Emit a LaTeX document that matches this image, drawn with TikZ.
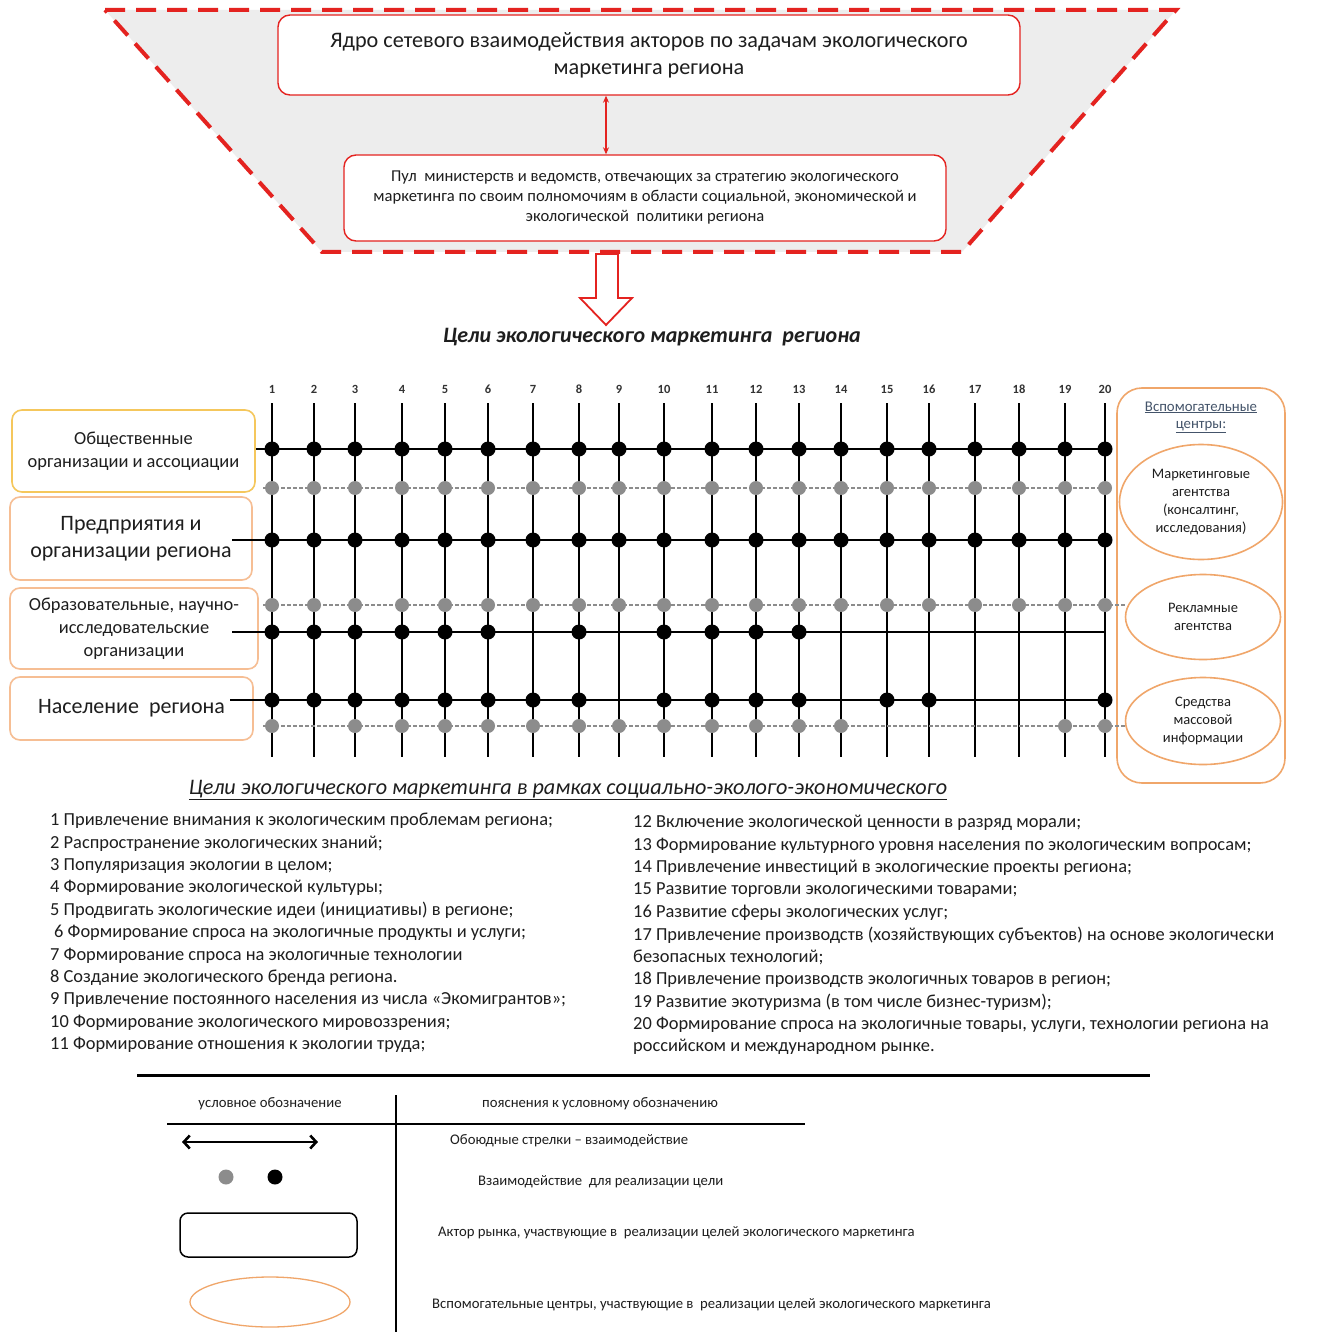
\documentclass[tikz,border=0pt]{standalone}
\usepackage{fontspec}
\setmainfont{Carlito}
\usetikzlibrary{arrows.meta,shapes.geometric}

\definecolor{funnelred}{HTML}{E42320}
\definecolor{funnelgray}{HTML}{EDEDED}
\definecolor{actoryellow}{HTML}{F5C75C}
\definecolor{actororange}{HTML}{F6BE94}
\definecolor{centreorange}{HTML}{F0A66A}
\definecolor{dotgray}{HTML}{8C8C8C}
\definecolor{textgray}{HTML}{1E1E1E}
\definecolor{labelblue}{HTML}{44546A}

\newcommand{\fsz}[2]{\fontsize{#1}{#2}\selectfont}

\tikzset{
  redbox/.style={draw=funnelred, line width=1.4pt, fill=white, rounded corners=12pt, align=center, inner sep=0pt, text=textgray},
  actorbox/.style={draw=actororange, line width=1.6pt, fill=white, rounded corners=10pt, align=center, inner sep=0pt, text=textgray},
  centreoval/.style={draw=centreorange, line width=1.6pt, ellipse, align=center, inner sep=0pt, text=textgray, font=\fsz{14.5}{18}},
  vline/.style={line width=2.2pt, black},
  hline/.style={line width=1.8pt, black},
  gline/.style={line width=2pt, dotgray, dash pattern=on 4pt off 2pt},
  colnum/.style={font=\fsz{12.5}{14}\bfseries, inner sep=0pt, text=black!80},
  goalitem/.style={anchor=west, inner sep=0pt, font=\fsz{18.4}{20}, text=textgray},
  legendtxt/.style={anchor=west, inner sep=0pt, font=\fsz{14.7}{16}, text=textgray},
}

\begin{document}
\begin{tikzpicture}[x=1pt,y=-1pt]
\useasboundingbox (0,0) rectangle (1330,1337);
\fill[white] (0,0) rectangle (1330,1337);

% ---------- funnel with the core and the pool of ministries ----------
\coordinate (ftl) at (105,10);
\coordinate (ftr) at (1176,10);
\coordinate (fbr) at (962,252);
\coordinate (fbl) at (322,252);
\fill[funnelgray] (ftl) -- (ftr) -- (fbr) -- (fbl) -- cycle;
\draw[funnelred, line width=4pt, dash pattern=on 20pt off 11pt] (ftl) -- (ftr) -- (fbr) -- (fbl) -- cycle;

\node[redbox, minimum width=742pt, minimum height=80pt, font=\fsz{22.2}{27}] (core) at (649,55)
  {Ядро сетевого взаимодействия акторов по задачам экологического\\маркетинга региона};
\node[redbox, minimum width=602pt, minimum height=86pt, font=\fsz{16.6}{20}] (pool) at (645,198)
  {Пул\ \ министерств и ведомств, отвечающих за стратегию экологического\\
   маркетинга по своим полномочиям в области социальной, экономической и\\
   экологической\ \ политики региона};
\draw[funnelred, line width=1.3pt, {Stealth[length=7pt,width=6pt]}-{Stealth[length=7pt,width=6pt]}]
  (606,0 |- core.south) -- (606,0 |- pool.north);

% hollow arrow down to the goals
\draw[funnelred, line width=1.8pt, fill=white, line join=miter]
  (596,254) -- (596,298) -- (580,298) -- (606,325) -- (632,298) -- (618,298) -- (618,254) -- cycle;
\node[font=\fsz{22}{24}\bfseries\itshape, text=textgray] (goals) at (652,337)
  {Цели экологического маркетинга\ \ региона};

% ---------- actors on the left ----------
\node[actorbox, draw=actoryellow, minimum width=243pt, minimum height=82pt, font=\fsz{18.4}{23}] (act1) at (133.5,451)
  {Общественные\\организации и ассоциации};
\node[actorbox, minimum width=242pt, minimum height=83pt, font=\fsz{22}{27}] (act2) at (131,538.5)
  {Предприятия и\\организации региона};
\node[actorbox, minimum width=248pt, minimum height=81pt, font=\fsz{18.4}{23}] (act3) at (134,628.5)
  {Образовательные, научно-\\исследовательские\\организации};
\node[actorbox, minimum width=243pt, minimum height=63pt, font=\fsz{22}{24}] (act4) at (131.5,708.5)
  {Население\ \ региона};

% ---------- auxiliary centres on the right ----------
\node[draw=centreorange, line width=1.6pt, rounded corners=25pt, minimum width=168pt, minimum height=395pt] (aux) at (1201,585.5) {};
\node[font=\fsz{14.8}{17}, text=labelblue, align=center, inner sep=0pt] (auxtitle) at (1201,417)
  {\underline{Вспомогательные}\\\underline{центры:}};
\node[centreoval, minimum width=163pt, minimum height=115pt] (ctr1) at (1201,502)
  {Маркетинговые\\агентства\\(консалтинг,\\исследования)};
\node[centreoval, minimum width=155pt, minimum height=85pt] (ctr2) at (1203,617)
  {Рекламные\\агентства};
\node[centreoval, minimum width=155pt, minimum height=87pt] (ctr3) at (1203,721)
  {Средства\\массовой\\информации};

% ---------- goal grid ----------
\foreach \x [count=\i] in {272,314,355,402,445,488,533,579,619,664,712,756,799,841,887,929,975,1019,1065,1105} {
  \coordinate (col\i) at (\x,0);
  \node[colnum] (num\i) at (\x,389) {\i};
  \draw[vline] (\x,403) -- (\x,757);
}
\coordinate (rA) at (0,449);
\coordinate (rB) at (0,488);
\coordinate (rC) at (0,540);
\coordinate (rD) at (0,605);
\coordinate (rE) at (0,632);
\coordinate (rF) at (0,700);
\coordinate (rG) at (0,726);

\draw[hline] (act1.east |- rA) -- (col20 |- rA);
\draw[gline] (263,488) -- (1112,488);
\draw[hline] (232,540) -- (col20 |- rC);
\draw[gline] (263,605) -- (ctr2.west |- rD);
\draw[hline] (232,632) -- (col20 |- rE);
\draw[hline] (230,700) -- (col20 |- rF);
\draw[gline] (263,726) -- (ctr3.west |- rG);

\foreach \i in {1,...,20} {
  \fill[black] (col\i |- rA) circle (7.5);
  \fill[dotgray] (col\i |- rB) circle (7);
  \fill[black] (col\i |- rC) circle (7.5);
  \fill[dotgray] (col\i |- rD) circle (7);
}
\foreach \i in {1,2,3,4,5,6,8,10,11,12,13}
  \fill[black] (col\i |- rE) circle (7.5);
\foreach \i in {1,2,3,4,5,6,7,8,10,11,12,13,15,16,20}
  \fill[black] (col\i |- rF) circle (7.5);
\foreach \i in {1,3,4,5,6,7,8,9,10,11,12,13,14,19,20}
  \fill[dotgray] (col\i |- rG) circle (7);

% ---------- list of goals ----------
\node[font=\fsz{22.2}{24}\itshape, text=textgray, inner sep=0pt] (sect) at (568,790)
  {\underline{Цели экологического маркетинга в рамках социально-эколого-экономического}};

\foreach \t [count=\i] in {
  {1 Привлечение внимания к экологическим проблемам региона;},
  {2 Распространение экологических знаний;},
  {3 Популяризация экологии в целом;},
  {4 Формирование экологической культуры;},
  {5 Продвигать экологические идеи (инициативы) в регионе;},
  {\hspace{4pt}6 Формирование спроса на экологичные продукты и услуги;},
  {7 Формирование спроса на экологичные технологии},
  {8 Создание экологического бренда региона.},
  {9 Привлечение постоянного населения из числа «Экомигрантов»;},
  {10 Формирование экологического мировоззрения;},
  {11 Формирование отношения к экологии труда;}}
  \node[goalitem] (gl\i) at (50,{821+22.4*(\i-1)}) {\t};

\foreach \t [count=\i] in {
  {12 Включение экологической ценности в разряд морали;},
  {13 Формирование культурного уровня населения по экологическим вопросам;},
  {14 Привлечение инвестиций в экологические проекты региона;},
  {15 Развитие торговли экологическими товарами;},
  {16 Развитие сферы экологических услуг;},
  {17 Привлечение производств (хозяйствующих субъектов) на основе экологически},
  {безопасных технологий;},
  {18 Привлечение производств экологичных товаров в регион;},
  {19 Развитие экотуризма (в том числе бизнес-туризм);},
  {20 Формирование спроса на экологичные товары, услуги, технологии региона на},
  {российском и международном рынке.}}
  \node[goalitem] (gr\i) at (633,{823+22.4*(\i-1)}) {\t};

% ---------- legend ----------
\draw[line width=3pt] (137,1075) -- (1150,1075);
\draw[line width=1.5pt] (396,1095) -- (396,1332);
\draw[line width=1.8pt] (167,1124) -- (805,1124);
\node[font=\fsz{14.7}{16}, text=textgray, inner sep=0pt] (lh1) at (270,1104) {условное обозначение};
\node[font=\fsz{14.7}{16}, text=textgray, inner sep=0pt] (lh2) at (600,1104) {пояснения к условному обозначению};

\coordinate (la1) at (182,1142);
\coordinate (la2) at (318,1142);
\draw[line width=2.6pt, {Straight Barb[length=6pt,width=13pt,line width=2.6pt]}-{Straight Barb[length=6pt,width=13pt,line width=2.6pt]}] (la1) -- (la2);
\fill[dotgray] (226,1177) circle (7.5);
\fill[black] (275,1177) circle (7.5);
\node[draw, line width=1.5pt, rounded corners=8pt, minimum width=177pt, minimum height=44pt] (lrect) at (268.5,1235) {};
\node[draw=centreorange, line width=1.3pt, ellipse, minimum width=160pt, minimum height=50pt] (loval) at (270,1302) {};

\node[legendtxt] (lt1) at (450,1141) {Обоюдные стрелки – взаимодействие};
\node[legendtxt] (lt2) at (478,1182) {Взаимодействие\ \ для реализации цели};
\node[legendtxt] (lt3) at (438,1233) {Актор рынка, участвующие в\ \ реализации целей экологического маркетинга};
\node[legendtxt] (lt4) at (432,1305) {Вспомогательные центры, участвующие в\ \ реализации целей экологического маркетинга};
\end{tikzpicture}
\end{document}
